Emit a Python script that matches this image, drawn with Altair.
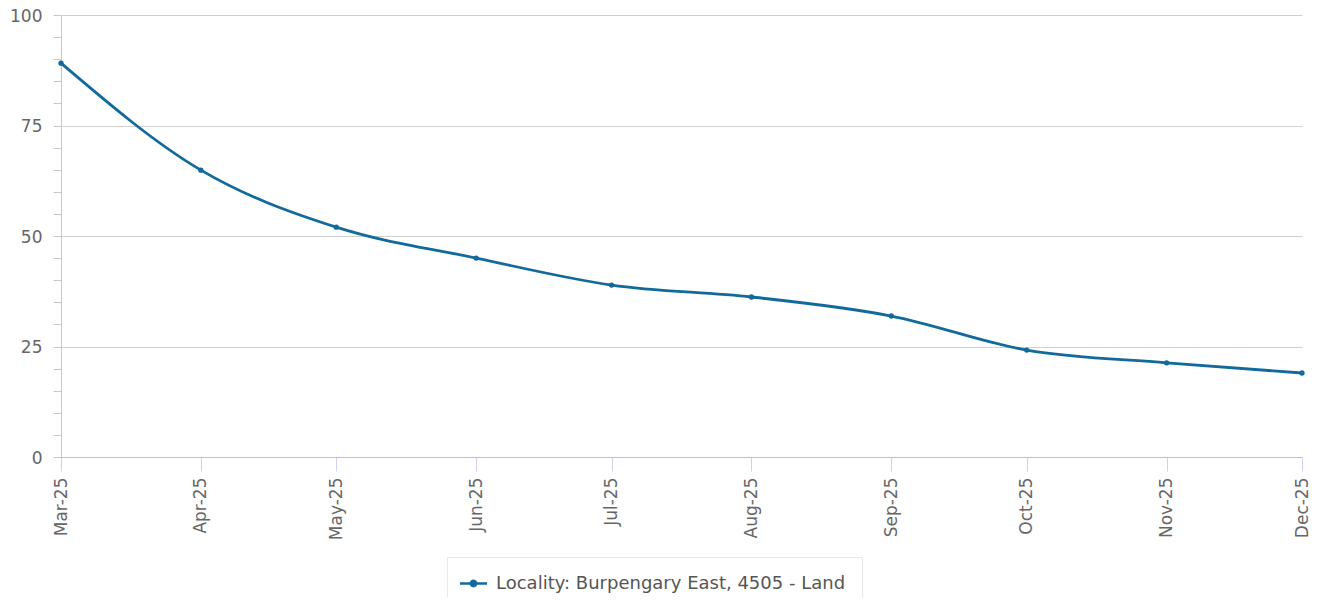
import altair as alt
import pandas as pd

months = ["2025-03-01T00:00:00", "2025-04-01T00:00:00", "2025-05-01T00:00:00",
          "2025-06-01T00:00:00", "2025-07-01T00:00:00", "2025-08-01T00:00:00",
          "2025-09-01T00:00:00", "2025-10-01T00:00:00", "2025-11-01T00:00:00",
          "2025-12-01T00:00:00"]
values = [89.1, 64.9, 52.0, 45.0, 38.9, 36.2, 31.9, 24.2, 21.3, 19.0]
series_name = "Locality: Burpengary East, 4505 - Land"
y_ticks = list(range(0, 101, 5))
x_ticks = [alt.DateTime(year=2025, month=m, date=1) for m in range(3, 13)]

df = pd.DataFrame({"month": months, "value": values, "series": series_name})

COLOR = "#126a9c"
FONT = "DejaVu Sans"

x = alt.X("month:T",
          scale=alt.Scale(domain=[alt.DateTime(year=2025, month=3, date=1),
                                  alt.DateTime(year=2025, month=12, date=1)],
                          nice=False),
          axis=alt.Axis(title=None, format="%b-%y", values=x_ticks, labelAngle=270,
                        labelAlign="right", labelBaseline="middle",
                        labelPadding=6, tickSize=14, tickColor="#ccd6eb",
                        domainColor="#c0c0c0", grid=False, labelFontSize=17,
                        labelColor="#666666", labelFont=FONT, labelOverlap=False,
                        labelFlush=False))
y = alt.Y("value:Q",
          scale=alt.Scale(domain=[0, 100], nice=False),
          axis=alt.Axis(title=None, values=y_ticks,
                        labelExpr="datum.value % 25 == 0 ? datum.label : ''",
                        gridColor={"condition": {"test": "datum.value % 25 == 0", "value": "#d0d0d0"},
                                   "value": "transparent"},
                        tickSize=8, tickColor="#c8c8c8", domainColor="#c8c8c8",
                        labelPadding=11, labelFontSize=17, labelColor="#666666",
                        labelBaseline="top", labelOffset=-7,
                        labelFont=FONT, labelOverlap=False))
color = alt.Color("series:N", scale=alt.Scale(range=[COLOR]),
                  legend=alt.Legend(title=None, orient="none", legendX=386, legendY=542,
                                    strokeColor="#e8e8e8", padding=16,
                                    symbolType="M-1.5,0H1.5M-0.3,0A0.3,0.3 0 1,0 0.3,0A0.3,0.3 0 1,0 -0.3,0Z",
                                    symbolSize=324, symbolStrokeWidth=2.5,
                                    symbolFillColor=COLOR, symbolStrokeColor=COLOR,
                                    labelFontSize=18, labelColor="#555555", labelFont=FONT,
                                    labelOffset=12, labelLimit=0))

line = alt.Chart(df).mark_line(interpolate="monotone", strokeWidth=2.8).encode(x=x, y=y, color=color)
pts = alt.Chart(df).mark_point(filled=True, size=28, opacity=1).encode(x=x, y=y, color=color)

chart = alt.layer(line, pts).properties(
    width=1241, height=442,
    background="white",
    autosize=alt.AutoSizeParams(type="none"),
    padding={"left": 53, "top": 7, "right": 12, "bottom": 140},
).configure_view(stroke=None)

chart.save("out.html", embed_options={"renderer": "svg", "actions": False})
